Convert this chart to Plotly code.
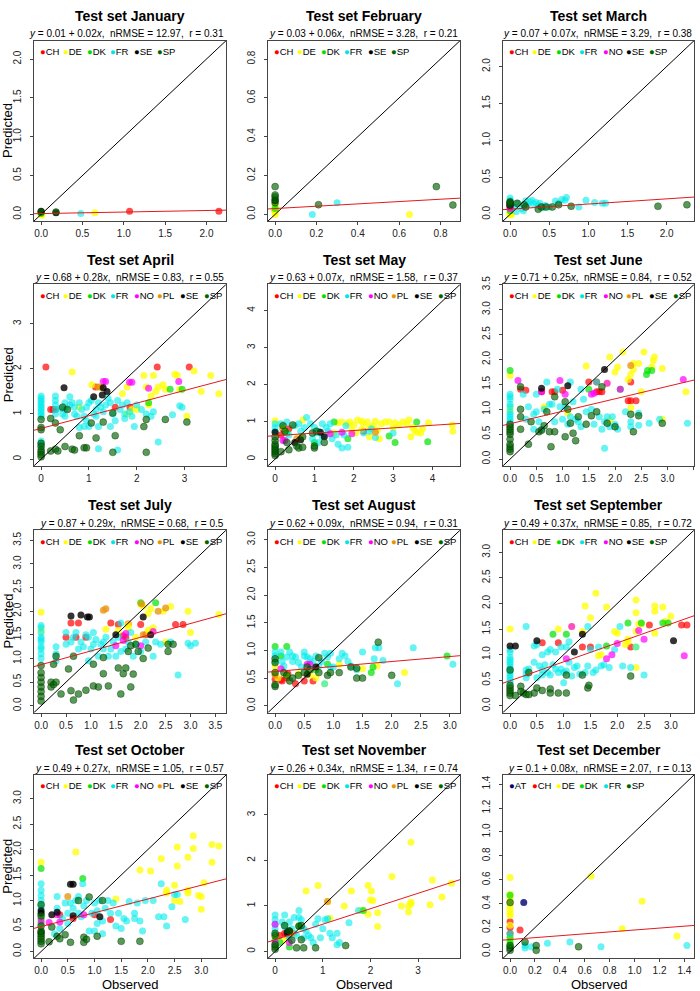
import plotly.graph_objects as go

# ---------------- data ----------------
MONTHS = ["January", "February", "March", "April", "May", "June",
          "July", "August", "September", "October", "November", "December"]
INTERCEPT = [0.01, 0.03, 0.07, 0.68, 0.63, 0.71, 0.87, 0.62, 0.49, 0.49, 0.26, 0.1]
SLOPE = [0.02, 0.06, 0.07, 0.28, 0.07, 0.25, 0.29, 0.09, 0.37, 0.27, 0.34, 0.08]
NRMSE = ["12.97", "3.28", "3.29", "0.83", "1.58", "0.84", "0.68", "0.94", "0.85", "1.05", "1.34", "2.07"]
R_VAL = ["0.31", "0.21", "0.38", "0.55", "0.37", "0.52", "0.5", "0.31", "0.72", "0.57", "0.74", "0.13"]
LIM_MAX = [2.15, 0.86, 2.26, 3.72, 4.52, 3.37, 3.57, 3.05, 3.3, 3.33, 3.73, 1.42]
TICK_STEP = [0.5, 0.2, 0.5, 1, 1, 0.5, 0.5, 0.5, 0.5, 0.5, 1, 0.2]

JAN = {
    "CH": [(1.07, 0.04), (2.15, 0.04)],
    "DE": [(0.0, 0.0), (0.01, -0.01), (0.0, 0.02), (0.65, 0.02)],
    "DK": [(0.0, 0.01)],
    "FR": [(0.48, 0.01)],
    "SE": [(0.0, 0.04), (0.18, 0.02)],
    "SP": [(0.0, 0.03), (0.18, 0.03)],
}
FEB = {
    "CH": [(0.0, 0.02)],
    "DE": [(0.0, 0.0), (0.0, 0.01), (0.0, 0.02), (0.0, 0.03), (0.0, 0.04), (0.0, 0.05), (0.65, 0.0)],
    "DK": [(0.0, 0.03)],
    "FR": [(0.18, 0.0), (0.30, 0.06)],
    "SE": [(0.0, 0.07)],
    "SP": [(0.0, 0.06), (0.0, 0.075), (0.0, 0.09), (0.0, 0.10), (0.0, 0.143), (0.21, 0.05),
           (0.78, 0.143), (0.86, 0.048)],
}
MAR = {
    "CH": [(0.0, 0.1)],
    "DE": [(0.0, -0.01), (0.0, 0.01), (0.0, 0.03), (0.02, 0.0)],
    "DK": [(0.0, 0.05)],
    "FR": [(0.0, 0.22), (0.0, 0.19), (0.05, 0.1), (0.08, 0.04), (0.1, 0.15), (0.15, 0.08), (0.17, 0.05),
           (0.2, 0.18), (0.22, 0.13), (0.25, 0.17), (0.28, 0.19), (0.3, 0.14), (0.33, 0.16), (0.36, 0.12),
           (0.38, 0.15), (0.42, 0.09), (0.45, 0.12), (0.5, 0.1), (0.58, 0.18), (0.62, 0.15), (0.66, 0.2),
           (0.7, 0.19), (0.72, 0.23), (0.88, 0.1), (0.97, 0.19), (1.08, 0.16), (1.18, 0.15), (1.22, 0.15)],
    "NO": [(0.0, 0.08), (0.0, 0.10), (0.0, 0.12)],
    "SE": [(0.0, 0.12), (0.0, 0.16)],
    "SP": [(0.0, 0.13), (0.0, 0.15), (0.0, 0.17), (0.09, 0.15), (0.18, 0.13), (0.2, 0.1), (0.36, 0.07),
           (0.4, 0.1), (0.46, 0.1), (0.54, 0.1), (0.62, 0.13), (0.78, 0.11), (1.89, 0.11), (2.26, 0.13)],
}
APR = {
    "CH": [(0.1, 2.04), (0.2, 1.1), (0.25, 1.1), (0.3, 1.1), (1.55, 1.15), (1.86, 1.15), (2.43, 2.04),
           (3.1, 2.04), (1.14, 1.6)],
    "DE": [(0.65, 1.93), (1.06, 1.65), (1.25, 1.6), (1.7, 1.45), (1.8, 1.6), (1.9, 1.1), (2.0, 1.1),
           (2.15, 1.85), (2.2, 1.6), (2.25, 1.2), (2.3, 1.4), (2.35, 1.85), (2.4, 1.5), (2.45, 1.6),
           (2.55, 1.65), (2.6, 1.55), (2.8, 1.88), (2.85, 1.85), (2.9, 1.55), (3.05, 0.95), (3.2, 1.95),
           (3.35, 1.5), (3.55, 1.85), (3.72, 1.45), (0.8, 1.15), (1.8, 1.0)],
    "DK": [(2.7, 1.55), (2.95, 1.55), (2.25, 1.25)],
    "FR": [(0.0, 1.4), (0.0, 1.35), (0.0, 1.3), (0.0, 1.25), (0.0, 1.2), (0.0, 1.15), (0.0, 1.1),
           (0.0, 1.05), (0.0, 1.0), (0.0, 0.95), (0.0, 0.4), (0.0, 0.35), (0.0, 0.3),
           (0.3, 1.4), (0.3, 1.3), (0.3, 1.2), (0.3, 1.1), (0.3, 1.0), (0.45, 1.0), (0.5, 0.95), (0.5, 1.1),
           (0.5, 1.25), (0.6, 1.38), (0.65, 1.25), (0.7, 1.0), (0.75, 0.95), (0.8, 1.25), (0.85, 1.1),
           (0.9, 0.95), (0.95, 1.15), (1.0, 1.25), (1.05, 1.3), (1.0, 0.72), (0.8, 0.7), (0.9, 0.72),
           (1.1, 1.0), (1.15, 0.95), (1.2, 1.25), (1.25, 1.15), (1.3, 1.05), (1.35, 1.2), (1.4, 1.35),
           (1.45, 1.25), (1.5, 1.0), (1.55, 0.85), (1.6, 1.3), (1.65, 1.1), (1.7, 1.2), (1.75, 0.9),
           (1.8, 1.25), (1.85, 1.05), (1.9, 0.95), (1.95, 0.72), (2.0, 1.2), (2.1, 1.1), (2.2, 1.0),
           (2.3, 0.95), (2.35, 1.05), (2.45, 0.38), (2.75, 0.98), (2.9, 1.18), (2.95, 1.15), (1.2, 0.23),
           (1.6, 0.2), (1.2, 0.72), (0.95, 0.85), (1.45, 0.72), (0.4, 1.12), (1.75, 1.0), (1.15, 1.1),
           (0.6, 1.2), (0.7, 1.15)],
    "NO": [(1.3, 1.72), (1.35, 1.72), (1.85, 1.7), (1.9, 1.7), (2.25, 1.57), (2.88, 1.72)],
    "PL": [(1.2, 1.6), (1.25, 1.6)],
    "SE": [(0.48, 1.58), (1.1, 1.38), (1.3, 1.58), (1.28, 1.42), (1.38, 1.5)],
    "SP": [(0.0, 0.88), (0.0, 0.7), (0.0, 0.65), (0.0, 0.35), (0.0, 0.28), (0.0, 0.2), (0.0, 0.15),
           (0.0, 0.1), (0.0, 0.05), (0.2, 0.18), (0.2, 0.9), (0.3, 0.8), (0.3, 0.22), (0.35, 0.18),
           (0.4, 0.65), (0.45, 1.15), (0.5, 0.28), (0.55, 1.1), (0.65, 0.22), (0.7, 0.2), (0.8, 0.52),
           (0.9, 0.25), (0.95, 0.25), (1.05, 0.8), (1.15, 0.47), (1.3, 0.82), (1.5, 0.15), (1.55, 0.52),
           (1.5, 1.02), (2.2, 0.88), (2.15, 0.72), (2.2, 0.15), (2.6, 0.88), (3.05, 0.82)],
}
MAY = {
    "CH": [(0.2, 0.82), (0.35, 0.82), (2.25, 0.75), (0.15, 0.65)],
    "DE": [(0.0, 1.03), (0.7, 1.05), (1.6, 0.98), (1.7, 1.0), (1.85, 0.95), (1.9, 1.0), (2.0, 0.92),
           (2.1, 1.05), (2.2, 1.02), (2.25, 0.95), (2.35, 1.0), (2.4, 0.85), (2.5, 0.9), (2.55, 1.02),
           (2.6, 0.78), (2.7, 0.95), (2.8, 1.0), (2.9, 1.0), (3.0, 0.85), (3.05, 0.98), (3.15, 0.92),
           (3.25, 1.0), (3.35, 0.95), (3.4, 1.05), (3.45, 0.6), (3.5, 0.85), (3.55, 0.78), (3.6, 0.72),
           (3.7, 0.7), (3.75, 0.82), (3.9, 0.98), (4.52, 0.75), (4.5, 0.92), (2.65, 0.55), (2.4, 0.6),
           (1.95, 0.78), (2.05, 0.7), (0.2, 0.85), (0.65, 0.6), (1.5, 0.7), (2.2, 0.8)],
    "DK": [(1.5, 1.0), (1.85, 0.55), (2.9, 0.62), (3.05, 0.45), (3.6, 1.0), (3.88, 0.47), (1.0, 0.45),
           (0.3, 0.7)],
    "FR": [(0.0, 0.95), (0.0, 0.85), (0.0, 0.75), (0.15, 0.95), (0.3, 1.0), (0.5, 0.9), (0.6, 0.95),
           (0.75, 0.85), (0.8, 1.12), (0.9, 0.95), (1.0, 0.85), (1.05, 0.7), (1.1, 0.75), (1.1, 0.45),
           (1.2, 0.95), (1.3, 0.85), (1.4, 0.95), (1.45, 0.55), (1.55, 0.65), (1.6, 0.4), (1.7, 0.3),
           (1.85, 0.32), (1.75, 0.65), (1.8, 0.9), (1.35, 0.75), (0.95, 0.55), (2.25, 0.7), (2.4, 0.75),
           (2.55, 0.58), (2.45, 0.82), (3.0, 0.7), (1.2, 0.6), (0.35, 0.65), (0.65, 0.75)],
    "NO": [(0.2, 0.5), (0.25, 0.5), (1.4, 0.68), (1.7, 0.72), (1.95, 0.68)],
    "PL": [(0.55, 0.55), (2.55, 0.72)],
    "SE": [(0.0, 0.72), (0.65, 0.52), (1.15, 0.72), (1.25, 0.6), (0.5, 0.45)],
    "SP": [(0.0, 0.1), (0.0, 0.15), (0.0, 0.2), (0.0, 0.25), (0.0, 0.3), (0.0, 0.35), (0.0, 0.4),
           (0.0, 0.5), (0.0, 0.6), (0.15, 0.2), (0.2, 0.9), (0.25, 0.75), (0.3, 0.45), (0.35, 0.25),
           (0.45, 0.92), (0.55, 0.35), (0.6, 0.3), (0.7, 0.32), (0.7, 0.6), (0.95, 0.7), (1.0, 0.3),
           (1.05, 0.75), (1.25, 0.45), (1.0, 0.35)],
}
JUN = {
    "CH": [(0.2, 1.4), (0.3, 1.38), (0.8, 1.35), (0.85, 1.35), (1.0, 1.38), (1.5, 1.55), (1.65, 1.55),
           (1.65, 1.35), (1.7, 1.35), (1.75, 1.35), (2.3, 1.55), (2.25, 1.17), (2.3, 1.17), (2.4, 1.17),
           (0.6, 1.35)],
    "DE": [(0.0, 1.68), (0.0, 1.0), (0.65, 1.05), (1.1, 0.92), (1.45, 1.87), (1.9, 2.05), (2.0, 1.75),
           (2.05, 1.85), (2.15, 2.15), (2.25, 1.6), (2.3, 1.7), (2.35, 1.8), (2.35, 1.92), (2.45, 1.92),
           (2.55, 2.15), (2.7, 1.85), (2.75, 2.05), (2.73, 1.98), (2.9, 1.82), (2.3, 1.03), (2.5, 1.35),
           (2.9, 0.8), (3.35, 1.35), (1.9, 0.78), (1.85, 1.52)],
    "DK": [(0.0, 1.78), (1.5, 1.4), (2.6, 1.7), (2.62, 1.78), (2.7, 1.78), (2.1, 1.4)],
    "FR": [(0.0, 1.3), (0.0, 1.25), (0.0, 1.2), (0.0, 1.1), (0.0, 1.05), (0.0, 0.95), (0.0, 0.9),
           (0.0, 0.85), (0.0, 0.8), (0.0, 0.75), (0.0, 0.7), (0.3, 0.8), (0.35, 1.05), (0.45, 0.6),
           (0.45, 0.9), (0.5, 1.3), (0.5, 0.95), (0.55, 0.75), (0.6, 0.6), (0.7, 1.55), (0.75, 1.1),
           (0.8, 1.1), (0.85, 0.75), (0.9, 1.4), (0.95, 1.05), (1.0, 0.8), (1.1, 0.7), (1.15, 0.85),
           (1.2, 1.15), (1.25, 0.8), (1.3, 0.75), (1.35, 0.65), (1.4, 1.2), (1.45, 0.95), (1.55, 1.0),
           (1.6, 0.7), (1.65, 1.55), (1.7, 0.85), (1.75, 0.6), (1.8, 0.22), (1.85, 0.85), (1.9, 0.65),
           (1.95, 0.85), (2.05, 0.6), (2.2, 0.95), (2.3, 0.75), (2.3, 0.65), (2.45, 0.92), (2.45, 0.68),
           (2.65, 0.72), (2.85, 0.8), (3.38, 0.72), (1.15, 1.55), (1.35, 1.4), (0.25, 1.3), (0.65, 1.0),
           (1.05, 1.05), (1.8, 0.75), (2.0, 0.7)],
    "NO": [(0.15, 1.58), (0.6, 1.35), (0.95, 1.58), (1.05, 1.3), (1.55, 1.3), (1.6, 1.32), (1.85, 1.52),
           (2.1, 1.4), (3.3, 1.6)],
    "PL": [(2.3, 1.88)],
    "SE": [(0.6, 1.42), (1.1, 1.47), (1.8, 1.8)],
    "SP": [(0.0, 0.15), (0.0, 0.2), (0.0, 0.25), (0.0, 0.3), (0.0, 0.4), (0.0, 0.5), (0.0, 0.55),
           (0.0, 0.6), (0.0, 0.65), (0.0, 0.7), (0.2, 0.6), (0.2, 0.85), (0.2, 1.45), (0.35, 0.3),
           (0.4, 0.75), (0.55, 0.55), (0.6, 0.58), (0.65, 0.67), (0.7, 0.95), (0.75, 0.55), (0.78, 0.25),
           (0.85, 1.25), (0.85, 0.55), (1.05, 1.15), (1.05, 0.45), (1.1, 1.0), (1.15, 0.72), (1.2, 0.52),
           (1.25, 0.37), (1.3, 0.85), (1.45, 0.7), (1.55, 0.87), (1.65, 0.95), (1.75, 1.45), (1.85, 0.72),
           (2.0, 0.65), (2.3, 0.9), (2.35, 0.55), (2.45, 0.87), (2.9, 0.72), (0.2, 1.0)],
}
JUL = {
    "CH": [(0.5, 1.45), (0.6, 1.75), (0.75, 1.75), (0.7, 1.45), (0.9, 1.45), (1.4, 1.75), (1.55, 1.72),
           (1.75, 1.73), (1.7, 1.45), (2.1, 1.5), (2.0, 1.72), (2.7, 1.72), (2.85, 1.72), (1.65, 1.48)],
    "DE": [(0.0, 1.98), (0.0, 1.6), (1.3, 1.62), (1.55, 1.6), (1.75, 1.72), (1.9, 1.45), (2.0, 2.15),
           (2.05, 2.1), (2.15, 1.95), (2.15, 1.6), (2.2, 2.05), (2.25, 1.65), (2.45, 2.0), (2.6, 2.1),
           (2.95, 2.0), (3.0, 1.55), (3.57, 1.93), (1.75, 1.65), (2.15, 1.55), (2.5, 1.35)],
    "DK": [(2.0, 2.18), (2.3, 2.18)],
    "FR": [(0.0, 1.7), (0.0, 1.65), (0.0, 1.55), (0.0, 1.45), (0.0, 1.4), (0.0, 1.35), (0.0, 1.25),
           (0.0, 1.2), (0.0, 1.1), (0.0, 1.0), (0.3, 1.25), (0.3, 1.1), (0.3, 0.95), (0.5, 1.55),
           (0.5, 1.3), (0.6, 1.35), (0.65, 1.45), (0.7, 1.55), (0.75, 1.2), (0.8, 1.35), (0.85, 1.25),
           (0.9, 1.5), (0.95, 1.45), (1.0, 1.2), (1.05, 1.3), (1.05, 1.55), (1.1, 1.4), (1.15, 1.05),
           (1.2, 1.3), (1.25, 1.2), (1.3, 1.45), (1.35, 1.05), (1.4, 1.2), (1.45, 1.35), (1.5, 1.05),
           (1.6, 1.75), (1.6, 1.15), (1.7, 1.2), (1.75, 1.35), (1.8, 1.55), (1.85, 1.05), (1.9, 1.3),
           (2.0, 1.15), (2.1, 1.35), (2.25, 1.05), (2.3, 1.35), (2.4, 1.3), (2.6, 1.35), (2.75, 0.65),
           (2.95, 1.32), (3.0, 1.27), (3.1, 1.32), (0.95, 0.95), (1.25, 1.35), (1.55, 1.45)],
    "NO": [(1.5, 1.27), (1.65, 1.38), (1.7, 1.53), (2.0, 1.27), (2.25, 1.57)],
    "PL": [(1.25, 2.02), (1.3, 2.05), (2.02, 2.15), (2.35, 2.0), (2.5, 2.07), (2.05, 1.5)],
    "SE": [(0.6, 1.9), (0.8, 1.92), (0.93, 1.88), (0.97, 1.88), (1.5, 1.5), (2.05, 1.88), (2.2, 1.5)],
    "SP": [(0.0, 0.1), (0.0, 0.2), (0.0, 0.3), (0.0, 0.4), (0.0, 0.5), (0.0, 0.6), (0.0, 0.7),
           (0.0, 0.85), (0.2, 0.5), (0.2, 0.4), (0.25, 0.88), (0.25, 0.45), (0.3, 0.5), (0.3, 1.05),
           (0.4, 0.25), (0.55, 0.78), (0.6, 0.32), (0.65, 0.12), (0.65, 1.05), (0.75, 0.25), (0.9, 0.33),
           (1.05, 0.88), (1.05, 0.42), (1.15, 0.4), (1.25, 0.68), (1.25, 1.02), (1.35, 0.42), (1.55, 0.8),
           (1.6, 0.25), (1.65, 0.68), (1.7, 0.8), (1.8, 0.4), (1.75, 1.15), (1.85, 0.67), (1.9, 1.3),
           (1.95, 1.15), (2.05, 1.0), (2.15, 1.22), (2.55, 1.3), (2.55, 1.15), (2.65, 1.3), (1.8, 1.27)],
}
AUG = {
    "CH": [(0.1, 0.47), (0.12, 0.45), (0.2, 0.5), (0.35, 0.4), (0.5, 0.45), (0.65, 0.45), (0.22, 0.58),
           (0.0, 0.48)],
    "DE": [(0.0, 0.72), (0.0, 0.6), (0.05, 0.5), (0.2, 0.55), (0.6, 0.55), (0.7, 0.5), (0.85, 0.4),
           (1.1, 0.75), (1.5, 0.67), (1.75, 0.72), (2.22, 0.6), (0.4, 0.58)],
    "DK": [(0.0, 1.07), (0.2, 1.07), (0.1, 0.9), (0.7, 0.65), (1.65, 0.6), (1.68, 0.7), (2.95, 0.9),
           (0.9, 0.75)],
    "FR": [(0.0, 0.97), (0.0, 0.9), (0.0, 0.8), (0.1, 0.97), (0.12, 0.8), (0.15, 0.72), (0.2, 0.88),
           (0.25, 0.97), (0.3, 0.9), (0.3, 0.8), (0.35, 0.88), (0.4, 0.78), (0.45, 0.7), (0.5, 0.97),
           (0.5, 0.9), (0.55, 0.88), (0.6, 0.85), (0.65, 0.8), (0.7, 0.9), (0.75, 0.72), (0.8, 0.8),
           (0.85, 0.95), (0.9, 0.88), (0.95, 0.7), (1.1, 0.85), (1.15, 0.95), (1.2, 0.9), (1.25, 0.8),
           (1.3, 0.72), (1.4, 0.65), (1.5, 0.97), (1.7, 0.85), (1.72, 1.05), (1.78, 1.05), (1.85, 0.82),
           (2.1, 0.4), (2.37, 1.05), (3.05, 0.75), (0.85, 0.4), (1.0, 0.7), (0.95, 0.95)],
    "NO": [(0.1, 0.67), (0.55, 0.75), (0.6, 0.75)],
    "PL": [(0.0, 0.55)],
    "SE": [(0.55, 0.57), (0.7, 0.7)],
    "SP": [(0.0, 0.35), (0.0, 0.38), (0.0, 0.6), (0.0, 0.85), (0.0, 0.78), (0.15, 0.6), (0.2, 0.55),
           (0.25, 0.45), (0.3, 0.5), (0.4, 0.55), (0.5, 0.6), (0.55, 0.7), (0.75, 0.87), (0.75, 0.6),
           (0.9, 0.55), (0.95, 0.6), (1.1, 0.6), (1.3, 0.7), (1.4, 0.5), (1.4, 0.68), (1.5, 0.5),
           (1.77, 1.15), (2.0, 0.55), (0.6, 0.65)],
}
SEP = {
    "CH": [(0.6, 1.23), (0.9, 1.23), (1.35, 1.15), (1.5, 1.15), (2.25, 1.15), (2.6, 1.58), (3.2, 1.58),
           (3.3, 1.58)],
    "DE": [(0.0, 1.5), (0.9, 1.5), (1.15, 1.55), (1.35, 1.45), (1.4, 1.95), (1.5, 1.72), (1.6, 2.2),
           (1.65, 0.98), (1.7, 1.0), (1.8, 1.93), (1.95, 1.45), (2.0, 1.42), (2.15, 1.2), (2.2, 1.25),
           (2.35, 2.07), (2.35, 1.82), (2.35, 1.45), (2.4, 1.6), (2.35, 0.75), (2.45, 1.6), (2.7, 1.95),
           (2.7, 1.85), (2.7, 1.42), (2.85, 1.93), (2.9, 1.65), (3.0, 1.75), (2.35, 1.15), (2.2, 1.3)],
    "DK": [(0.8, 1.4), (1.05, 1.4), (1.8, 1.17), (2.2, 1.62), (2.45, 1.62), (2.85, 1.62), (2.95, 1.62)],
    "FR": [(0.0, 1.1), (0.0, 1.05), (0.0, 0.95), (0.0, 0.9), (0.0, 0.85), (0.0, 0.8), (0.0, 0.75),
           (0.0, 0.7), (0.0, 0.65), (0.0, 0.6), (0.0, 0.55), (0.0, 0.5), (0.0, 0.45), (0.3, 1.55),
           (0.3, 0.7), (0.3, 0.62), (0.3, 0.55), (0.35, 0.72), (0.45, 1.17), (0.45, 0.85), (0.5, 1.2),
           (0.5, 0.55), (0.6, 0.7), (0.6, 0.6), (0.6, 1.0), (0.65, 0.8), (0.7, 1.05), (0.7, 0.65),
           (0.75, 1.1), (0.8, 0.8), (0.85, 1.05), (0.85, 0.72), (0.9, 0.65), (0.95, 1.15), (0.95, 0.72),
           (1.0, 0.45), (1.0, 0.65), (1.05, 1.15), (1.1, 0.85), (1.1, 1.25), (1.15, 0.58), (1.2, 0.75),
           (1.25, 0.78), (1.3, 0.62), (1.4, 0.65), (1.45, 1.55), (1.45, 0.78), (1.5, 1.1), (1.55, 0.65),
           (1.6, 0.7), (1.65, 1.15), (1.7, 0.78), (1.75, 0.8), (1.85, 0.75), (1.95, 1.1), (2.05, 1.55),
           (2.1, 0.78), (2.25, 0.75), (2.5, 0.6), (2.35, 1.15), (0.75, 0.6), (1.05, 0.68), (0.55, 0.78)],
    "NO": [(1.05, 0.92), (1.15, 1.55), (1.8, 0.92), (1.9, 1.0), (2.0, 1.22), (2.4, 1.47), (2.5, 1.3),
           (3.25, 0.98)],
    "SE": [(0.0, 1.17), (0.1, 1.17), (0.5, 1.27), (1.2, 1.05), (1.35, 1.4), (3.05, 1.27)],
    "SP": [(0.0, 0.2), (0.0, 0.25), (0.0, 0.3), (0.0, 0.35), (0.0, 0.4), (0.0, 0.7), (0.2, 0.38),
           (0.25, 0.25), (0.3, 0.22), (0.35, 0.65), (0.35, 0.22), (0.45, 0.25), (0.5, 0.35), (0.6, 0.3),
           (0.75, 0.33), (0.75, 0.25), (0.9, 0.25), (1.05, 0.6), (1.05, 0.25), (1.35, 0.6), (1.45, 0.35),
           (1.47, 0.4), (2.25, 0.58), (0.2, 0.28), (0.1, 0.2)],
}
OCT = {
    "CH": [(0.35, 0.72), (1.0, 0.72), (1.3, 0.63), (0.6, 0.65)],
    "DE": [(0.0, 1.75), (0.65, 1.95), (1.4, 1.03), (1.85, 1.6), (2.05, 1.58), (2.25, 1.82), (2.35, 1.2),
           (2.5, 1.3), (2.5, 1.0), (2.55, 2.05), (2.55, 1.68), (2.6, 0.98), (2.75, 1.85), (2.75, 1.2),
           (2.75, 1.15), (2.85, 2.27), (2.85, 2.02), (2.95, 1.1), (3.0, 1.08), (3.0, 0.83), (3.05, 1.35),
           (3.2, 2.1), (3.2, 1.75), (3.33, 2.07), (2.35, 1.15)],
    "DK": [(0.0, 1.63), (0.0, 0.65), (0.0, 0.55), (0.78, 1.43)],
    "FR": [(0.0, 1.33), (0.0, 1.2), (0.0, 1.1), (0.0, 1.0), (0.0, 0.9), (0.0, 0.85), (0.3, 1.08),
           (0.3, 0.85), (0.35, 0.45), (0.4, 0.65), (0.45, 0.95), (0.5, 0.75), (0.55, 0.95), (0.6, 0.85),
           (0.65, 1.0), (0.7, 1.08), (0.7, 0.75), (0.75, 0.68), (0.78, 1.33), (0.8, 0.9), (0.85, 1.0),
           (0.9, 0.4), (0.95, 0.75), (1.0, 0.95), (1.0, 0.4), (1.05, 0.8), (1.1, 1.0), (1.15, 0.6),
           (1.15, 0.35), (1.2, 0.85), (1.25, 1.0), (1.3, 0.75), (1.35, 0.95), (1.4, 0.5), (1.45, 0.75),
           (1.5, 0.45), (1.55, 0.65), (1.6, 0.6), (1.65, 0.98), (1.75, 0.65), (1.75, 0.75), (1.8, 0.95),
           (1.85, 0.6), (1.9, 0.4), (1.95, 1.0), (2.1, 1.0), (2.2, 0.68), (2.25, 1.33), (2.3, 0.68),
           (2.35, 0.5), (2.45, 0.88), (2.5, 1.12), (2.55, 1.12), (2.7, 0.63), (0.5, 0.55), (1.05, 0.55),
           (0.25, 0.35)],
    "NO": [(0.0, 0.6), (0.15, 0.57), (0.3, 0.72), (0.35, 0.58), (0.8, 0.72)],
    "PL": [(0.5, 1.08)],
    "SE": [(0.0, 0.8), (0.0, 0.75), (0.0, 0.38), (0.2, 0.72), (0.3, 0.77), (0.55, 1.32), (0.6, 1.32),
           (0.6, 0.7), (1.1, 0.68)],
    "SP": [(0.0, 0.15), (0.0, 0.2), (0.0, 0.25), (0.0, 0.3), (0.0, 0.35), (0.0, 0.4), (0.0, 0.5),
           (0.0, 0.92), (0.0, 0.7), (0.15, 0.19), (0.2, 0.48), (0.3, 0.3), (0.35, 0.25), (0.45, 0.33),
           (0.55, 0.18), (0.7, 1.0), (0.8, 0.28), (0.8, 0.18), (0.85, 0.24), (0.9, 1.07), (1.05, 0.3),
           (1.15, 1.0), (1.5, 0.2), (1.85, 0.2)],
}
NOV = {
    "CH": [(0.1, 0.35), (0.2, 0.4), (0.25, 0.35)],
    "DE": [(0.65, 1.33), (0.9, 1.45), (1.1, 1.1), (1.45, 1.0), (1.6, 1.33), (1.95, 1.45), (1.95, 0.82),
           (2.0, 1.13), (2.02, 1.33), (2.05, 1.12), (2.15, 0.85), (2.15, 0.55), (2.45, 1.65), (2.65, 1.0),
           (2.8, 0.87), (2.8, 1.0), (2.85, 1.05), (2.85, 2.4), (2.85, 1.08), (3.25, 1.03), (3.3, 1.57),
           (3.5, 1.2), (3.7, 1.5), (1.15, 0.73), (1.8, 0.9), (0.2, 0.25), (0.0, 0.3)],
    "DK": [(0.0, 0.25), (0.0, 0.15), (0.1, 0.2), (0.3, 0.1), (1.85, 0.9), (0.5, 0.55)],
    "FR": [(0.0, 0.8), (0.0, 0.7), (0.0, 0.6), (0.0, 0.5), (0.15, 0.65), (0.2, 0.8), (0.2, 0.55),
           (0.25, 0.45), (0.3, 0.65), (0.35, 0.5), (0.4, 0.4), (0.45, 0.35), (0.5, 0.9), (0.5, 0.75),
           (0.55, 0.7), (0.6, 0.5), (0.65, 0.45), (0.7, 0.35), (0.75, 0.3), (0.8, 0.2), (0.85, 0.6),
           (0.9, 0.72), (0.95, 0.3), (1.0, 0.5), (1.05, 0.7), (1.1, 0.72), (1.15, 0.4), (1.2, 0.3),
           (1.3, 0.4), (1.35, 0.2), (1.3, 0.15), (1.55, 0.63), (1.75, 0.9), (0.3, 0.3), (0.6, 0.3),
           (0.4, 0.75)],
    "NO": [(0.0, 0.6), (0.0, 0.2), (0.3, 0.2)],
    "PL": [(1.1, 1.1), (0.35, 0.4)],
    "SE": [(0.3, 0.45), (0.25, 0.42)],
    "SP": [(0.0, 0.05), (0.0, 0.1), (0.0, 0.15), (0.0, 0.35), (0.0, 0.4), (0.2, 0.57), (0.3, 0.45),
           (0.35, 0.25), (0.45, 0.08), (0.5, 0.56), (0.55, 0.57), (0.6, 0.08), (0.85, 0.08), (1.48, 0.13),
           (0.55, 0.26)],
}
DEC = {
    "AT": [(0.11, 0.41)],
    "CH": [(0.0, 0.25), (0.08, 0.18), (0.0, 0.2), (0.0, 0.15)],
    "DE": [(0.0, 0.62), (0.0, 0.48), (0.0, 0.45), (0.0, 0.42), (0.0, 0.38), (0.0, 0.35), (0.0, 0.32),
           (0.0, 0.3), (0.0, 0.22), (0.0, 0.1), (0.65, 0.63), (0.9, 0.19), (1.06, 0.42), (1.34, 0.13)],
    "DK": [(0.0, 0.47), (0.0, 0.12), (0.0, 0.08), (0.0, 0.05)],
    "FR": [(0.12, 0.03), (0.12, 0.05), (0.17, 0.04), (0.3, 0.07), (0.48, 0.08), (0.73, 0.04), (1.42, 0.05),
           (0.0, 0.15)],
    "SP": [(0.0, 0.01), (0.0, 0.03), (0.0, 0.05), (0.12, 0.08), (0.21, 0.05), (0.21, 0.01), (0.55, 0.04),
           (0.0, 0.41)],
}
PANELS = [JAN, FEB, MAR, APR, MAY, JUN, JUL, AUG, SEP, OCT, NOV, DEC]

# ---------------- style ----------------
COLORS = {
    "AT": ("rgba(0,0,110,0.8)", "#00006e"),
    "CH": ("rgba(255,0,0,0.7)", "#ff0000"),
    "DE": ("rgba(255,255,0,0.75)", "#ffff00"),
    "DK": ("rgba(0,225,0,0.7)", "#00e000"),
    "FR": ("rgba(0,235,235,0.6)", "#00e5e5"),
    "NO": ("rgba(255,0,255,0.7)", "#ff00ff"),
    "PL": ("rgba(235,150,20,0.8)", "#e69600"),
    "SE": ("rgba(0,0,0,0.8)", "#000000"),
    "SP": ("rgba(0,100,0,0.65)", "#006400"),
}
W, H = 700, 991
COL_L = [34, 268, 503]
COL_R = [226, 460, 694]
ROW_T = [32, 278, 526, 773]
ROW_B = [214, 461, 710, 958]
FONT = "Liberation Sans, Arial, Helvetica, sans-serif"

fig = go.Figure()
annotations = []
layout_axes = {}

for i, month in enumerate(MONTHS):
    r, c = divmod(i, 3)
    sfx = "" if i == 0 else str(i + 1)
    xa, ya = "x" + sfx, "y" + sfx
    m = LIM_MAX[i]
    lo, hi = -0.04 * m, 1.04 * m
    step = TICK_STEP[i]
    fmt = ".1f" if step < 1 else "d"
    L, R, T, B = COL_L[c], COL_R[c], ROW_T[r], ROW_B[r]
    common = dict(showgrid=False, zeroline=False, showline=True, mirror=True,
                  linecolor="#444", linewidth=1, ticks="outside", ticklen=3, tickcolor="#444",
                  tickfont=dict(family=FONT, size=10, color="#222"),
                  range=[lo, hi], tickmode="linear", tick0=0, dtick=step, tickformat=fmt)
    layout_axes["xaxis" + sfx] = dict(common, domain=[L / W, R / W], anchor=ya)
    layout_axes["yaxis" + sfx] = dict(common, domain=[1 - B / H, 1 - T / H], anchor=xa,
                                      tickangle=-90, ticklabelstandoff=5)

    data = PANELS[i]
    for country, pts in data.items():
        fill, solid = COLORS[country]
        line = dict(width=0.5, color="rgba(0,40,0,0.7)") if country == "SP" else dict(width=0)
        fig.add_trace(go.Scatter(
            x=[p[0] for p in pts], y=[p[1] for p in pts], mode="markers",
            marker=dict(size=7, color=fill, line=line),
            xaxis=xa, yaxis=ya, showlegend=False, hoverinfo="skip"))
    fig.add_trace(go.Scatter(x=[lo, hi], y=[lo, hi], mode="lines",
                             line=dict(color="black", width=1),
                             xaxis=xa, yaxis=ya, showlegend=False, hoverinfo="skip"))
    a, b = INTERCEPT[i], SLOPE[i]
    fig.add_trace(go.Scatter(x=[lo, hi], y=[a + b * lo, a + b * hi], mode="lines",
                             line=dict(color="#e31a1c", width=1),
                             xaxis=xa, yaxis=ya, showlegend=False, hoverinfo="skip"))

    annotations.append(dict(text="<b>Test set " + month + "</b>", xref="paper", yref="paper",
                            x=(L + R) / 2 / W, y=1 - (T - 25) / H, xanchor="center", yanchor="middle",
                            showarrow=False, font=dict(family=FONT, size=14, color="black")))
    sub = ("<i>y</i> = " + str(a) + " + " + str(b) + "<i>x</i>,&nbsp; nRMSE = " + NRMSE[i]
           + ",&nbsp; r = " + R_VAL[i])
    annotations.append(dict(text=sub, xref="paper", yref="paper",
                            x=R / W, y=1 - (T - 7) / H, xanchor="right", yanchor="middle",
                            showarrow=False, font=dict(family=FONT, size=10, color="black")))
    for k, country in enumerate(data.keys()):
        solid = COLORS[country][1]
        annotations.append(dict(
            text='<span style="color:' + solid + '">●</span>' + country,
            xref="paper", yref="paper", x=(L + 4 + k * 23.4) / W, y=1 - (T + 11) / H,
            xanchor="left", yanchor="middle", showarrow=False,
            font=dict(family=FONT, size=9.5, color="black")))
    if c == 0:
        annotations.append(dict(text="Predicted", xref="paper", yref="paper",
                                x=8 / W, y=1 - (T + B) / 2 / H, textangle=-90,
                                xanchor="center", yanchor="middle", showarrow=False,
                                font=dict(family=FONT, size=13, color="black")))
    if r == 3:
        annotations.append(dict(text="Observed", xref="paper", yref="paper",
                                x=(L + R) / 2 / W, y=1 - 984 / H,
                                xanchor="center", yanchor="middle", showarrow=False,
                                font=dict(family=FONT, size=13, color="black")))

fig.update_layout(width=W, height=H, margin=dict(l=0, r=0, t=0, b=0),
                  paper_bgcolor="white", plot_bgcolor="white",
                  annotations=annotations, **layout_axes)
fig.write_html("out.html", config={"displayModeBar": False},
               post_script="document.body.style.margin='0';document.body.style.overflow='hidden';")
